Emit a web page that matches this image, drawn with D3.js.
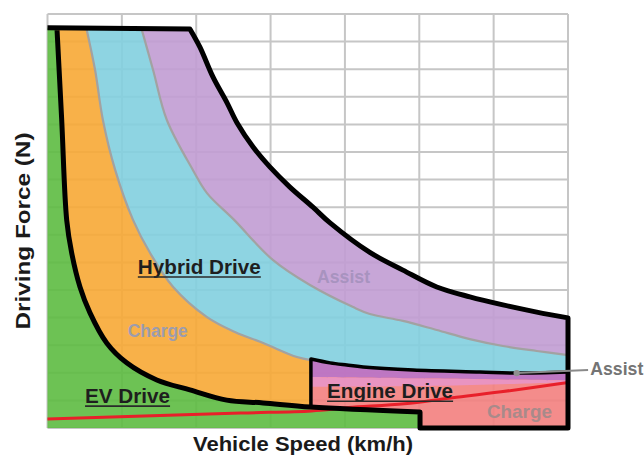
<!DOCTYPE html>
<html><head><meta charset="utf-8">
<script src="https://cdn.jsdelivr.net/npm/d3@7/dist/d3.min.js"></script>
<style>html,body{margin:0;padding:0;background:#fff;}svg{display:block;}</style>
</head><body>
<svg id="chart" width="644" height="457"></svg>
<script>
// ---- data (speed km/h, driving force kN) ----
const speedGrid = [0, 20, 40, 60, 80, 100, 120, 140];
const forceGrid = [0, 1, 2, 3, 4, 5, 6, 7, 8, 9, 10, 11, 12, 13, 14, 15];

const maxForce = [[38.3,14.46],[41.0,13.80],[44.5,12.72],[48.3,11.78],[51.0,11.05],[55.3,10.18],[59.8,9.46],[65.2,8.73],[71.4,8.0],[76.0,7.43],[86.7,6.36],[95.6,5.72],[104.7,5.11],[113.6,4.75],[122.5,4.46],[131.6,4.20],[140,3.99]];
const assistBoundary = [[25.3,14.46],[28.4,12.97],[32.1,11.16],[39.1,9.35],[42.9,8.51],[50.2,7.54],[60.6,6.09],[70.6,5.18],[82.2,4.38],[86.7,4.13],[95.6,3.88],[104.7,3.55],[113.6,3.22],[122.5,2.97],[131.6,2.79],[140,2.64]];
const chargeBoundary = [[10.5,14.46],[12.8,12.97],[14.9,11.16],[18.2,9.35],[23.0,7.54],[27.6,6.34],[33.8,5.11],[42.9,4.02],[50.4,3.48],[58.0,3.08],[67.1,2.57],[70.85,2.46]];
const evBoundary = [[2.55,14.46],[3.82,11.16],[5.16,7.54],[6.51,6.34],[8.74,5.11],[11.43,4.17],[15.92,3.08],[21.3,2.36],[29.4,1.74],[38.3,1.38],[48.2,1.01],[58.0,0.91],[70.85,0.76],[100.2,0.58]];
const engineTop = [[70.85,2.5],[76.0,2.36],[80.5,2.28],[84.9,2.21],[98.3,2.10],[116.3,2.03],[126.2,1.99],[140,2.03]];
const engineAssistLower = [[70.85,1.85],[100,1.80],[140,1.72]];
const engineBlendLower = [[70.85,1.49],[105,1.53],[140,1.66]];
const roadLoad = [[0,0.33],[52,0.54],[71,0.62],[81,0.74],[96,0.88],[108,1.08],[122,1.31],[140,1.65]];
const evStepSpeed = 100.2;
const topForce = 14.46;
const assistMarker = [126.2, 1.99];

// ---- scales ----
const x = d3.scaleLinear().domain([0, 140]).range([47.5, 568]);
const y = d3.scaleLinear().domain([0, 15]).range([428, 14]);
const svg = d3.select("#chart");
const FONT = "'Liberation Sans', Arial, sans-serif";

svg.append("rect").attr("width", 644).attr("height", 457).attr("fill", "#fff");

// grid
const grid = svg.append("g").attr("stroke", "#c6c6c6").attr("stroke-width", 2);
grid.selectAll(".v").data(speedGrid).join("line")
  .attr("x1", d => x(d)).attr("x2", d => x(d)).attr("y1", y(15)).attr("y2", y(0));
grid.selectAll(".h").data(forceGrid).join("line")
  .attr("x1", x(0)).attr("x2", x(140)).attr("y1", d => y(d)).attr("y2", d => y(d));

const CR = d3.curveCatmullRom.alpha(0.5), LIN = d3.curveLinear;
const seg = (pts, c) => d3.line().x(d => x(d[0])).y(d => y(d[1])).curve(c)(pts);
const join = (...parts) => parts.map((p, i) => i === 0 ? p : "L" + p.slice(1)).join("") + "Z";
const rev = a => a.slice().reverse();
const evLeft = evBoundary.filter(d => d[0] <= 70.85);
const chargeEnd = chargeBoundary[chargeBoundary.length - 1];
const engL = engineTop[0], engR = engineTop[engineTop.length - 1];
const maxEnd = maxForce[maxForce.length - 1];
const asEnd = assistBoundary[assistBoundary.length - 1];
const evEnd = evBoundary[evBoundary.length - 1];
const evAt70 = evLeft[evLeft.length - 1];

const fills = svg.append("g").attr("fill-opacity", 0.9);
// EV drive (green)
fills.append("path").attr("fill", "#5dbb41").attr("d", join(
  seg([[0, topForce + 0.04], evBoundary[0]], LIN), seg(evBoundary, CR),
  seg([evEnd, [evStepSpeed, 0], [0, 0]], LIN)));
// Hybrid charge (orange)
fills.append("path").attr("fill", "#f7a935").attr("d", join(
  seg([evBoundary[0], chargeBoundary[0]], LIN), seg(chargeBoundary, CR),
  seg([chargeEnd, evAt70], LIN), seg(rev(evLeft), CR)));
// Hybrid (cyan)
fills.append("path").attr("fill", "#82cfdf").attr("d", join(
  seg([chargeBoundary[0], assistBoundary[0]], LIN), seg(assistBoundary, CR),
  seg([asEnd, engR], LIN), seg(rev(engineTop), CR), seg(rev(chargeBoundary), CR)));
// Hybrid assist (purple)
fills.append("path").attr("fill", "#c19cd3").attr("d", join(
  seg([assistBoundary[0], maxForce[0]], LIN), seg(maxForce, CR),
  seg([maxEnd, asEnd], LIN), seg(rev(assistBoundary), CR)));
// Engine drive (salmon)
fills.append("path").attr("fill", "#f37f7e").attr("d", join(
  seg(engineTop, CR), seg([engR, [140, 0], [evStepSpeed, 0], evEnd, evAt70], LIN)));
// engine blend band
fills.append("path").attr("fill", "#e895c6").attr("d", join(
  seg(engineAssistLower, CR), seg(rev(engineBlendLower), CR)));
// engine assist band
fills.append("path").attr("fill", "#b874c9").attr("d", join(
  seg(engineTop, CR), seg(rev(engineAssistLower), CR)));

// gray region boundaries
svg.append("g").attr("fill", "none").attr("stroke", "#a2a2a2").attr("stroke-width", 2.2)
  .selectAll("path").data([chargeBoundary, assistBoundary]).join("path").attr("d", d => seg(d, CR));

// road load (red)
svg.append("path").attr("fill", "none").attr("stroke", "#e8202a").attr("stroke-width", 3)
  .attr("d", seg(roadLoad, CR));

// black outlines
const outline = seg([[0, topForce + 0.04], maxForce[0]], LIN)
  + "L" + seg(maxForce, CR).slice(1)
  + "L" + seg([maxEnd, [140, 0], [evStepSpeed, 0], evEnd], LIN).slice(1)
  + "L" + seg(rev(evBoundary), CR).slice(1);
svg.append("path").attr("fill", "none").attr("stroke", "#000").attr("stroke-width", 5)
  .attr("stroke-linejoin", "round").attr("d", outline);
svg.append("path").attr("fill", "none").attr("stroke", "#000").attr("stroke-width", 3.5)
  .attr("stroke-linejoin", "round")
  .attr("d", seg([evAt70, engL], LIN) + "L" + seg(engineTop, CR).slice(1));

// assist marker and leader
svg.append("line").attr("x1", x(assistMarker[0])).attr("y1", y(assistMarker[1]))
  .attr("x2", x(145.4)).attr("y2", y(2.1)).attr("stroke", "#8a8a8a").attr("stroke-width", 2);
svg.append("circle").attr("cx", x(assistMarker[0])).attr("cy", y(assistMarker[1])).attr("r", 3.2).attr("fill", "#8f8f8f");

// labels
const labels = [
  {t: "Hybrid Drive", v: 24.3, f: 5.58, w: 123, s: 20, c: "#1e1e1e", u: true},
  {t: "EV Drive", v: 10.1, f: 0.9, w: 85, s: 20, c: "#1e1e1e", u: true},
  {t: "Engine Drive", v: 75.2, f: 1.08, w: 126, s: 20, c: "#1e1e1e", u: true},
  {t: "Charge", v: 21.6, f: 3.30, w: 60, s: 18, c: "#9c9cae", u: false},
  {t: "Assist", v: 72.5, f: 5.25, w: 53, s: 19, c: "#a893bf", u: false},
  {t: "Charge", v: 118.2, f: 0.36, w: 65, s: 19, c: "#a88a8a", u: false},
  {t: "Assist", v: 146.0, f: 1.93, w: 53, s: 18, c: "#747474", u: false}
];
const lg = svg.append("g").attr("font-family", FONT).attr("font-weight", "bold");
labels.forEach(L => {
  lg.append("text").attr("x", x(L.v)).attr("y", y(L.f)).attr("font-size", L.s)
    .attr("fill", L.c).attr("textLength", L.w).attr("lengthAdjust", "spacingAndGlyphs").text(L.t);
  if (L.u) lg.append("line").attr("x1", x(L.v)).attr("x2", x(L.v) + L.w)
    .attr("y1", y(L.f) + 3).attr("y2", y(L.f) + 3).attr("stroke", "#2a2a2a").attr("stroke-width", 1.6);
});

// axis titles
svg.append("text").attr("x", 193).attr("y", 451).attr("font-family", FONT).attr("font-weight", "bold")
  .attr("font-size", 21).attr("fill", "#1a1a1a").attr("textLength", 220).attr("lengthAdjust", "spacingAndGlyphs")
  .text("Vehicle Speed (km/h)");
svg.append("text").attr("transform", "translate(30,231) rotate(-90)").attr("text-anchor", "middle")
  .attr("font-family", FONT).attr("font-weight", "bold").attr("font-size", 21).attr("fill", "#1a1a1a")
  .attr("textLength", 197).attr("lengthAdjust", "spacingAndGlyphs").text("Driving Force (N)");
</script>
</body></html>
